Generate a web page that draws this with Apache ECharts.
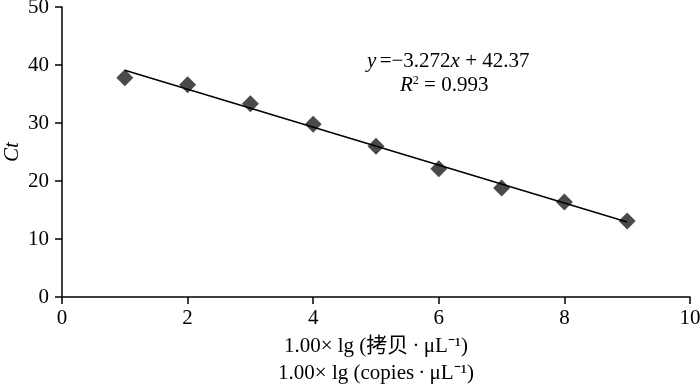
<!DOCTYPE html>
<html>
<head>
<meta charset="utf-8">
<script src="https://cdn.jsdelivr.net/npm/echarts@6/dist/echarts.min.js"></script>
<style>
  html, body { margin: 0; padding: 0; background: #fff; }
  #chart { width: 700px; height: 384px; }
</style>
</head>
<body>
<div id="chart"></div>
<script>
// lg copies
const xValues = [1, 2, 3, 4, 5, 6, 7, 8, 9];
// Ct values
const ctValues = [37.8, 36.6, 33.3, 29.8, 26.0, 22.1, 18.8, 16.4, 13.1];
// trend line end points (y = -3.272x + 42.37)
const fitX = [1, 9];
const fitY = [39.10, 12.92];

const serif = "'Liberation Serif', 'Times New Roman', 'Noto Sans CJK SC', serif";

const chart = echarts.init(document.getElementById("chart"));
const option = {
  animation: false,
  textStyle: { fontFamily: serif },
  grid: { left: 62, right: 10, top: 7, bottom: 87, containLabel: false, outerBoundsMode: "none" },
  xAxis: {
    type: "value",
    min: 0,
    max: 10,
    interval: 2,
    splitLine: { show: false },
    axisLine: { onZero: false, lineStyle: { color: "#000", width: 1.5 } },
    axisTick: { length: 7, lineStyle: { color: "#000", width: 1.5 } },
    axisLabel: { color: "#000", fontSize: 21, fontFamily: serif, margin: 11 },
    name: "1.00× lg (拷贝\u2009·\u2009μL⁻¹)\n1.00× lg (copies\u2009·\u2009μL⁻¹)",
    nameLocation: "middle",
    nameGap: 36,
    nameMoveOverlap: false,
    nameTextStyle: { color: "#000", fontSize: 21, fontFamily: serif, lineHeight: 27 },
  },
  yAxis: {
    type: "value",
    min: 0,
    max: 50,
    interval: 10,
    splitLine: { show: false },
    axisLine: { show: true, lineStyle: { color: "#000", width: 1.5 } },
    axisTick: { show: true, length: 7, lineStyle: { color: "#000", width: 1.5 } },
    axisLabel: { color: "#000", fontSize: 21, fontFamily: serif, margin: 13 },
    name: "Ct",
    nameLocation: "middle",
    nameGap: 39,
    nameMoveOverlap: false,
    nameTextStyle: { color: "#000", fontSize: 21, fontStyle: "italic", fontFamily: serif },
  },
  series: [
    {
      type: "line",
      data: fitX.map((x, i) => [x, fitY[i]]),
      showSymbol: false,
      lineStyle: { color: "#000", width: 1.5 },
      z: 3,
    },
    {
      type: "scatter",
      data: xValues.map((x, i) => [x, ctValues[i]]),
      symbol: "diamond",
      symbolSize: [17, 17],
      itemStyle: { color: "#4a4a4a", opacity: 1 },
      z: 2,
    },
  ],
  graphic: [
    {
      type: "text",
      left: 367,
      top: 51,
      style: {
        text: "{i|y} {n|=−3.272}{i|x}{n| + 42.37}",
        fill: "#000",
        rich: {
          i: { fontStyle: "italic", fontSize: 21, fontFamily: serif },
          n: { fontSize: 21, fontFamily: serif },
        },
      },
    },
    {
      type: "text",
      left: 400,
      top: 75,
      style: {
        text: "{i|R}{s|2}{n| = 0.993}",
        fill: "#000",
        rich: {
          i: { fontStyle: "italic", fontSize: 21, fontFamily: serif },
          n: { fontSize: 21, fontFamily: serif },
          s: { fontSize: 12, fontFamily: serif, verticalAlign: "top", padding: [0, 0, 9, 0] },
        },
      },
    },
  ],
};
chart.setOption(option);
</script>
</body>
</html>
